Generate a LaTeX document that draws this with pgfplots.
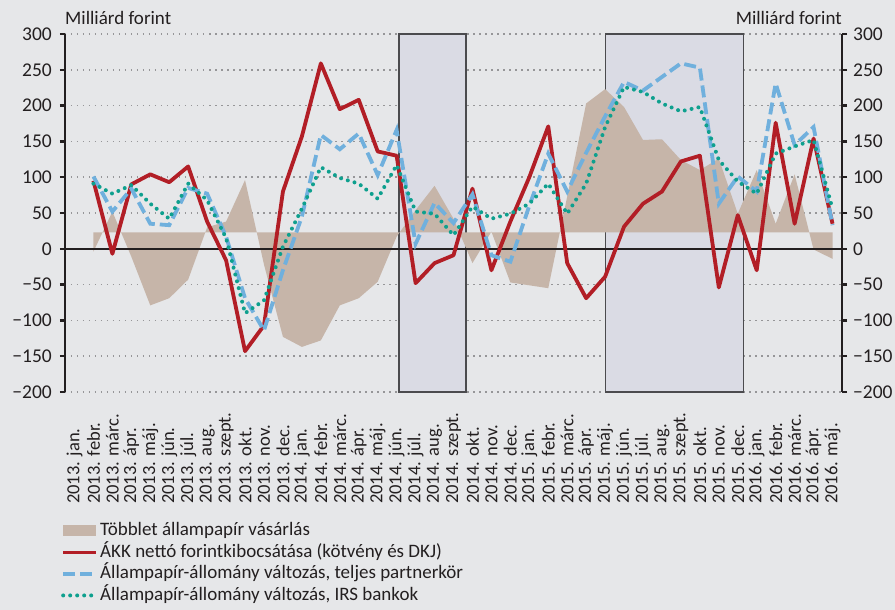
\documentclass[border=0pt]{standalone}
\usepackage{fontspec}
\setmainfont{Carlito}
\usepackage{pgfplots}
\pgfplotsset{compat=1.18}
\definecolor{bgc}{RGB}{230,231,233}
\definecolor{txt}{RGB}{35,31,32}
\definecolor{redc}{RGB}{178,30,38}
\definecolor{bluec}{RGB}{112,176,221}
\definecolor{tealc}{RGB}{14,160,142}
\definecolor{areac}{RGB}{198,181,169}
\definecolor{rectc}{RGB}{218,219,228}
\definecolor{rectd}{RGB}{75,75,78}
\definecolor{gridc}{RGB}{150,150,152}
\begin{document}
\begin{tikzpicture}[font=\fontsize{19}{21}\selectfont, text=txt]
\fill[bgc] (-65pt,-218pt) rectangle (830pt,392pt);
\begin{axis}[
  at={(0,0)}, anchor=south west,
  scale only axis, width=777pt, height=358pt,
  xmin=-0.5, xmax=40.5, ymin=-200, ymax=300,
  clip=false,
  axis x line*=bottom, axis y line*=left,
  x axis line style={draw=none},
  y axis line style={line width=2.5pt, color=txt, -},
  xtick={0,...,40},
  xticklabels={2013. jan.,2013. febr.,2013. márc.,2013. ápr.,2013. máj.,2013. jún.,2013. júl.,2013. aug.,2013. szept.,2013. okt.,2013. nov.,2013. dec.,2014. jan.,2014. febr.,2014. márc.,2014. ápr.,2014. máj.,2014. jún.,2014. júl.,2014. aug.,2014. szept.,2014. okt.,2014. nov.,2014. dec.,2015. jan.,2015. febr.,2015. márc.,2015. ápr.,2015. máj.,2015. jún.,2015. júl.,2015. aug.,2015. szept.,2015. okt.,2015. nov.,2015. dec.,2016. jan.,2016. febr.,2016. márc.,2016. ápr.,2016. máj.},
  x tick style={draw=none},
  xticklabel style={rotate=90, anchor=west, inner sep=0pt, font=\fontsize{18.5}{20}\selectfont},
  xticklabel shift=107pt,
  ytick={-200,-150,-100,-50,0,50,100,150,200,250,300},
  yticklabels={−200,−150,−100,−50,0,50,100,150,200,250,300},
  y tick style={line width=2.5pt, color=txt},
  yticklabel style={inner sep=0pt, font=\fontsize{19.5}{21}\selectfont},
  yticklabel shift=8pt,
  tick align=outside, major tick length=5pt,
  ymajorgrids,
  grid style={color=gridc, line width=1.5pt, dash pattern=on 1.5pt off 4.5pt},
  legend image code/.code={\draw[#1] (0pt,0pt) -- (33pt,0pt);},
  legend style={at={(0,0)}, anchor=north west, xshift=-4pt, yshift=-128pt,
    draw=none, fill=none, inner sep=0pt, row sep=0pt,
    font=\fontsize{19}{21}\selectfont,
    nodes={inner sep=2pt, text height=13.5pt, text depth=4pt}},
  legend cell align=left,
]
\addplot[fill=rectc, draw=rectd, line width=1.5pt, forget plot] coordinates {(17.13,-200) (17.13,300) (20.65,300) (20.65,-200)} --cycle;
\addplot[fill=rectc, draw=rectd, line width=1.5pt, forget plot] coordinates {(28.01,-200) (28.01,300) (35.29,300) (35.29,-200)} --cycle;
\addplot[fill=areac, draw=none,
  legend image code/.code={\fill[areac] (0pt,-5.5pt) rectangle (33pt,5.5pt);}]
  coordinates {(1,23) (1,-4) (2,52) (3,-11) (4,-79) (5,-69) (6,-43) (7,30) (8,38) (9,96) (10,-22)
  (11,-123) (12,-137) (13,-128) (14,-79) (15,-69) (16,-46) (17,17) (18,54) (19,88) (20,42)
  (21,-20) (22,24) (23,-47) (24,-51) (25,-55) (26,73) (27,203) (28,223) (29,198) (30,152)
  (31,153) (32,124) (33,110) (34,126) (35,49) (36,110) (37,35) (38,104) (39,-1) (40,-14) (40,23)} --cycle;
\addlegendentry{Többlet állampapír vásárlás}
\addplot[txt, line width=2.5pt, forget plot] coordinates {(-0.5,0) (40.5,0)};
\addplot[redc, line width=3.8pt, line join=round] coordinates {
  (1,95) (2,-7) (3,90) (4,104) (5,93) (6,115) (7,38) (8,-16) (9,-143) (10,-107)
  (11,80) (12,157) (13,259) (14,195) (15,208) (16,136) (17,130) (18,-48) (19,-20) (20,-9)
  (21,84) (22,-30) (23,38) (24,100) (25,171) (26,-20) (27,-69) (28,-39) (29,31) (30,63)
  (31,80) (32,122) (33,130) (34,-54) (35,47) (36,-30) (37,176) (38,35) (39,154) (40,35)};
\addlegendentry{ÁKK nettó forintkibocsátása (kötvény és DKJ)}
\addplot[bluec, line width=3.8pt, dash pattern=on 12pt off 5pt] coordinates {
  (1,101) (2,52) (3,84) (4,35) (5,33) (6,85) (7,77) (8,17) (9,-69) (10,-114)
  (11,-30) (12,45) (13,159) (14,139) (15,161) (16,103) (17,166) (18,7) (19,64) (20,36)
  (21,76) (22,-9) (23,-18) (24,60) (25,133) (26,80) (27,134) (28,185) (29,233) (30,221)
  (31,240) (32,259) (33,253) (34,63) (35,101) (36,80) (37,231) (38,145) (39,170) (40,33)};
\addlegendentry{Állampapír-állomány változás, teljes partnerkör}
\addplot[tealc, line width=4pt, line cap=round, dash pattern=on 0pt off 7pt] coordinates {
  (1,91) (2,77) (3,89) (4,63) (5,42) (6,91) (7,68) (8,15) (9,-90) (10,-72)
  (11,3) (12,56) (13,114) (14,99) (15,91) (16,70) (17,117) (18,52) (19,49) (20,19)
  (21,59) (22,42) (23,49) (24,63) (25,91) (26,49) (27,91) (28,170) (29,226) (30,219)
  (31,203) (32,192) (33,198) (34,124) (35,94) (36,77) (37,133) (38,143) (39,152) (40,56)};
\addlegendentry{Állampapír-állomány változás, IRS bankok}
\node[anchor=base west, inner sep=0pt] at (rel axis cs:0,1) [yshift=10pt] {Milliárd forint};
\node[anchor=base east, inner sep=0pt] at (rel axis cs:1,1) [yshift=10pt] {Milliárd forint};
\end{axis}
\begin{axis}[
  at={(0,0)}, anchor=south west,
  scale only axis, width=777pt, height=358pt,
  xmin=-0.5, xmax=40.5, ymin=-200, ymax=300,
  axis y line*=right, axis x line=none,
  y axis line style={line width=2.5pt, color=txt, -},
  ytick={-200,-150,-100,-50,0,50,100,150,200,250,300},
  yticklabels={−200,−150,−100,−50,0,50,100,150,200,250,300},
  y tick style={line width=2.5pt, color=txt},
  yticklabel style={inner sep=0pt, font=\fontsize{19.5}{21}\selectfont},
  yticklabel shift=6pt,
  tick align=outside, major tick length=5pt,
]
\end{axis}
\pgfresetboundingbox
\path[use as bounding box] (-65pt,-218pt) rectangle (830pt,392pt);
\end{tikzpicture}
\end{document}
